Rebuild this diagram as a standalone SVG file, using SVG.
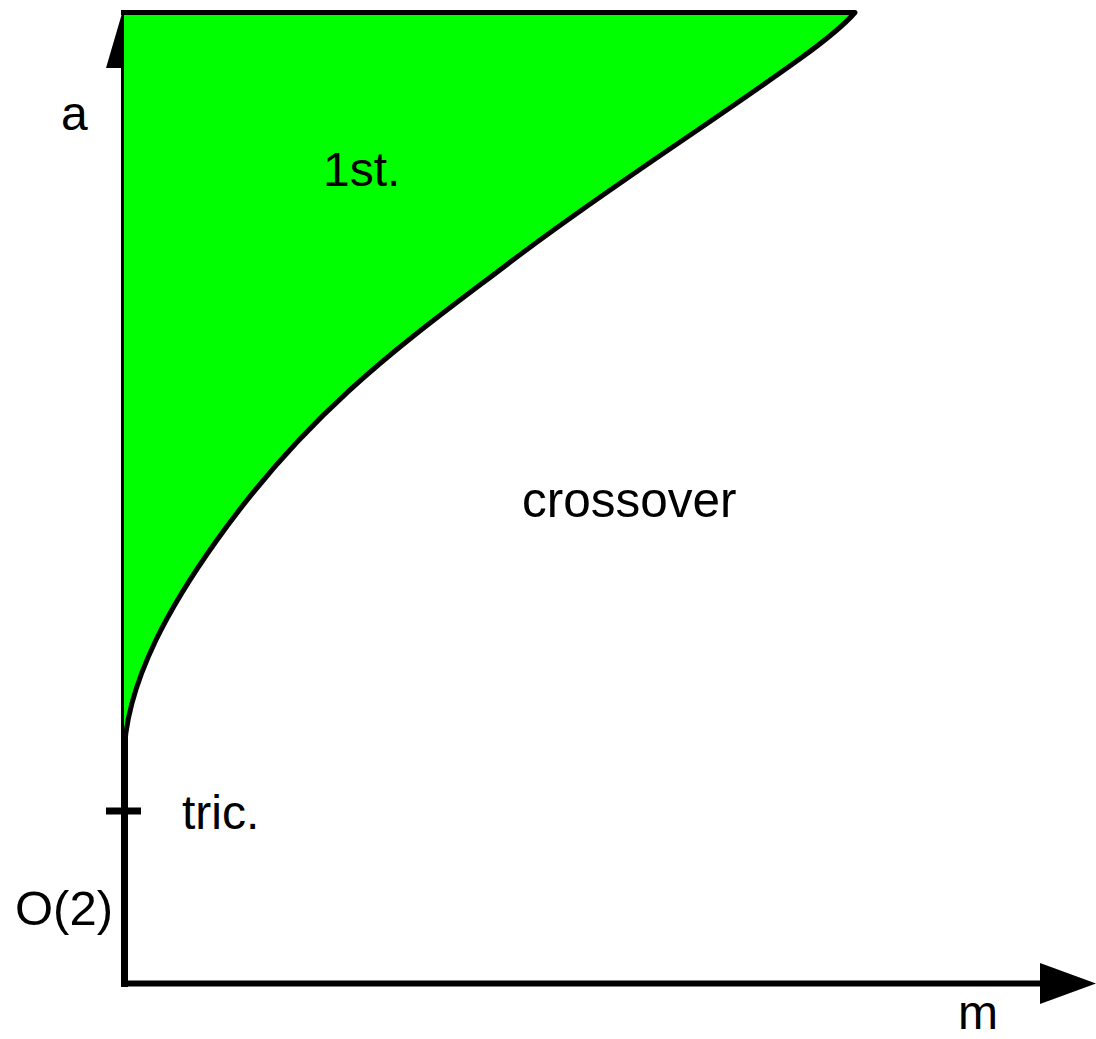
<svg xmlns="http://www.w3.org/2000/svg" width="1096" height="1039" viewBox="0 0 1096 1039">
<style>
.ax{stroke:#000;fill:none}
.lbl{font-family:"Liberation Sans",Arial,sans-serif;font-size:48px;fill:#000}
</style>
<defs>
<path id="boundary" d="M855,12.5 C845,24 830,37 801,58 C704,128 606,189 509,263 C412,337 314,404 217,540 C177,596 124,680 124,760"/>
</defs>
<rect width="1096" height="1039" fill="#fff"/>
<g id="axes">
<line class="ax" x1="124.5" y1="987" x2="124.5" y2="50" stroke-width="7"/>
<polygon points="106,68 123,10 141,68" fill="#000"/>
<line class="ax" x1="121" y1="983.5" x2="1042" y2="983.5" stroke-width="6"/>
<polygon points="1040,963 1096,983.5 1040,1004" fill="#000"/>
<line class="ax" x1="106" y1="811" x2="141" y2="811" stroke-width="7"/>
</g>
<g id="region-first-order">
<path d="M127,12.5 L855,12.5 C845,24 830,37 801,58 C704,128 606,189 509,263 C412,337 314,404 217,540 C177,596 124,680 124,760 L124,12.5 Z" fill="#00ff00" stroke="none"/>
<path d="M121,12.5 L855,12.5 C845,24 830,37 801,58 C704,128 606,189 509,263 C412,337 314,404 217,540 C177,596 124,680 124,760" fill="none" stroke="#000" stroke-width="5" stroke-linejoin="round"/>
</g>
<g id="labels">
<text class="lbl" x="61" y="130">a</text>
<text class="lbl" x="323" y="186">1st.</text>
<text class="lbl" x="522" y="517" style="font-size:49.5px">crossover</text>
<text class="lbl" x="182" y="829">tric.</text>
<text class="lbl" x="15" y="925" style="font-size:49px">O(2)</text>
<text class="lbl" x="958" y="1029">m</text>
</g>
</svg>
